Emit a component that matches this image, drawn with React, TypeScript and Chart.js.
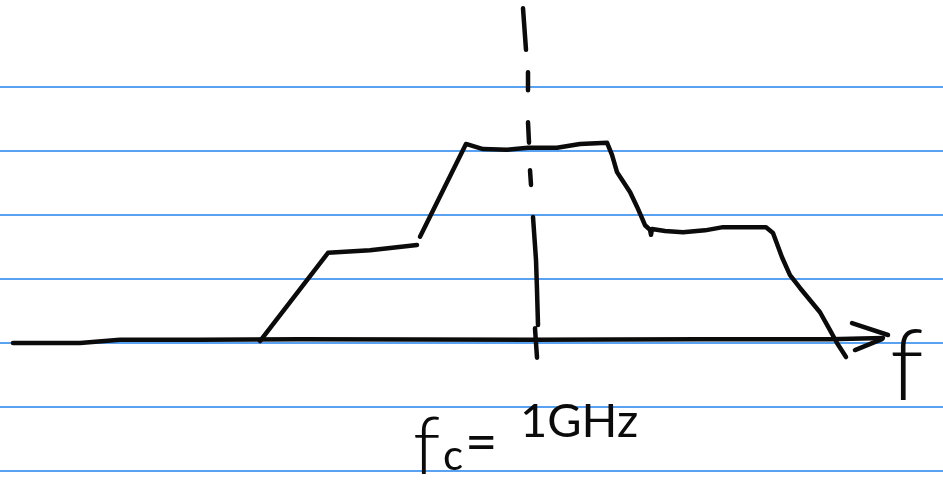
import { useEffect, useRef } from "react";
import { Chart, registerables } from "chart.js";

Chart.register(...registerables);

// Frequency axis in MHz, amplitude in units of one ruled line.
const F_MIN = 470;
const F_MAX = 1413;
const A_MIN = -2.203;
const A_MAX = 5.359;

// Ruled notebook lines (amplitude values)
const RULE_LINES = [-2, -1, 0, 1, 2, 3, 4];

// Frequency axis stroke
const AXIS_F = [483, 550, 590, 670, 770, 1000, 1170, 1300, 1353];
const AXIS_A = [0, 0, 0.05, 0.05, 0.06, 0.05, 0.06, 0.06, 0.08];

// Arrow head barbs
const ARROW_UP_F = [1322, 1358];
const ARROW_UP_A = [0.31, 0.125];
const ARROW_LO_F = [1325, 1352];
const ARROW_LO_A = [-0.11, 0.06];

// Lower left shoulder of the spectrum
const SHOULDER_F = [730, 798, 840, 887];
const SHOULDER_A = [0.03, 1.41, 1.45, 1.53];

// Main spectrum stroke: rise, top plateau, right shoulder, fall
const SPECTRUM_F = [
  890, 936, 953, 977, 998, 1027, 1050, 1077, 1082, 1087, 1092, 1100, 1107, 1112, 1115, 1120, 1121,
  1122, 1135, 1153, 1175, 1193, 1236, 1243, 1252, 1260, 1270, 1290, 1300, 1307, 1316,
];
const SPECTRUM_A = [
  1.66, 3.11, 3.03, 3.02, 3.05, 3.05, 3.11, 3.13, 2.94, 2.67, 2.55, 2.36, 2.13, 1.95, 1.84, 1.77, 1.69,
  1.78, 1.75, 1.73, 1.76, 1.81, 1.81, 1.72, 1.34, 1.06, 0.86, 0.48, 0.2, 0.0, -0.22,
];

// Dashed centre line at fc (null separates the dashes)
const CENTER_F = [993, 996, 0, 998, 998, 0, 998, 999, 0, 1000, 1001, 0, 1003, 1006, 1007, 1008, 0, 1005, 1007];
const CENTER_A = [5.23, 4.58, null, 4.23, 3.95, null, 3.45, 3.13, null, 2.7, 2.47, null, 1.97, 1.3, 0.83, 0.28, null, 0.23, -0.23];

const CENTER_FREQ = 1000;
const CENTER_LABEL = "1GHz";
const AXIS_LABEL = "f";

const INK = "#0b0b0b";
const RULE_BLUE = "rgba(70,152,240,0.9)";

const zip = (f: number[], a: (number | null)[]) => f.map((x, i) => ({ x, y: a[i] }));

const stroke = (data: { x: number; y: number | null }[]) => ({
  data,
  borderColor: INK,
  borderWidth: 4.5,
  pointRadius: 0,
  borderCapStyle: "round" as const,
  borderJoinStyle: "round" as const,
  tension: 0,
  spanGaps: false,
  fill: false,
});

const labelsPlugin = {
  id: "handLabels",
  afterDatasetsDraw(chart: Chart) {
    const { ctx, scales } = chart;
    const x = scales.x;
    const y = scales.y;
    ctx.save();
    ctx.fillStyle = INK;
    ctx.textBaseline = "alphabetic";
    ctx.textAlign = "left";

    const cx = x.getPixelForValue(CENTER_FREQ);
    const base = y.getPixelForValue(-2) - 1;
    // f_c =
    ctx.font = "300 80px Lato";
    ctx.fillText("f", cx - 117, base + 4);
    ctx.font = "400 42px Lato";
    ctx.fillText("c", cx - 87, base);
    ctx.font = "400 56px Lato";
    ctx.fillText("=", cx - 65, base - 9);
    // 1GHz
    ctx.font = "400 47px Lato";
    ctx.fillText(CENTER_LABEL, cx - 10, base - 33);

    // axis name
    ctx.font = "300 98px Lato";
    ctx.fillText(AXIS_LABEL, x.getPixelForValue(1360), y.getPixelForValue(-0.89));
    ctx.restore();
  },
};

export default function App() {
  const ref = useRef<HTMLCanvasElement | null>(null);

  useEffect(() => {
    document.body.style.margin = "0";
    const canvas = ref.current;
    if (!canvas) return;
    const chart = new Chart(canvas, {
      type: "line",
      data: {
        datasets: [
          stroke(zip(AXIS_F, AXIS_A)),
          stroke(zip(ARROW_UP_F, ARROW_UP_A)),
          stroke(zip(ARROW_LO_F, ARROW_LO_A)),
          stroke(zip(SHOULDER_F, SHOULDER_A)),
          stroke(zip(SPECTRUM_F, SPECTRUM_A)),
          stroke(zip(CENTER_F, CENTER_A)),
        ],
      },
      options: {
        animation: false,
        responsive: false,
        devicePixelRatio: 1,
        layout: { padding: 0 },
        plugins: { legend: { display: false }, tooltip: { enabled: false } },
        scales: {
          x: {
            type: "linear",
            min: F_MIN,
            max: F_MAX,
            display: false,
          },
          y: {
            type: "linear",
            min: A_MIN,
            max: A_MAX,
            border: { display: false },
            ticks: { display: false },
            grid: { color: RULE_BLUE, lineWidth: 2, drawTicks: false },
            afterBuildTicks: (scale: any) => {
              scale.ticks = RULE_LINES.map((v) => ({ value: v }));
            },
            afterFit: (scale: any) => {
              scale.width = 0;
            },
          },
        },
      },
      plugins: [labelsPlugin],
    });
    return () => chart.destroy();
  }, []);

  return (
    <div style={{ width: 943, height: 484, background: "#fff" }}>
      <canvas ref={ref} width={943} height={484} />
    </div>
  );
}
